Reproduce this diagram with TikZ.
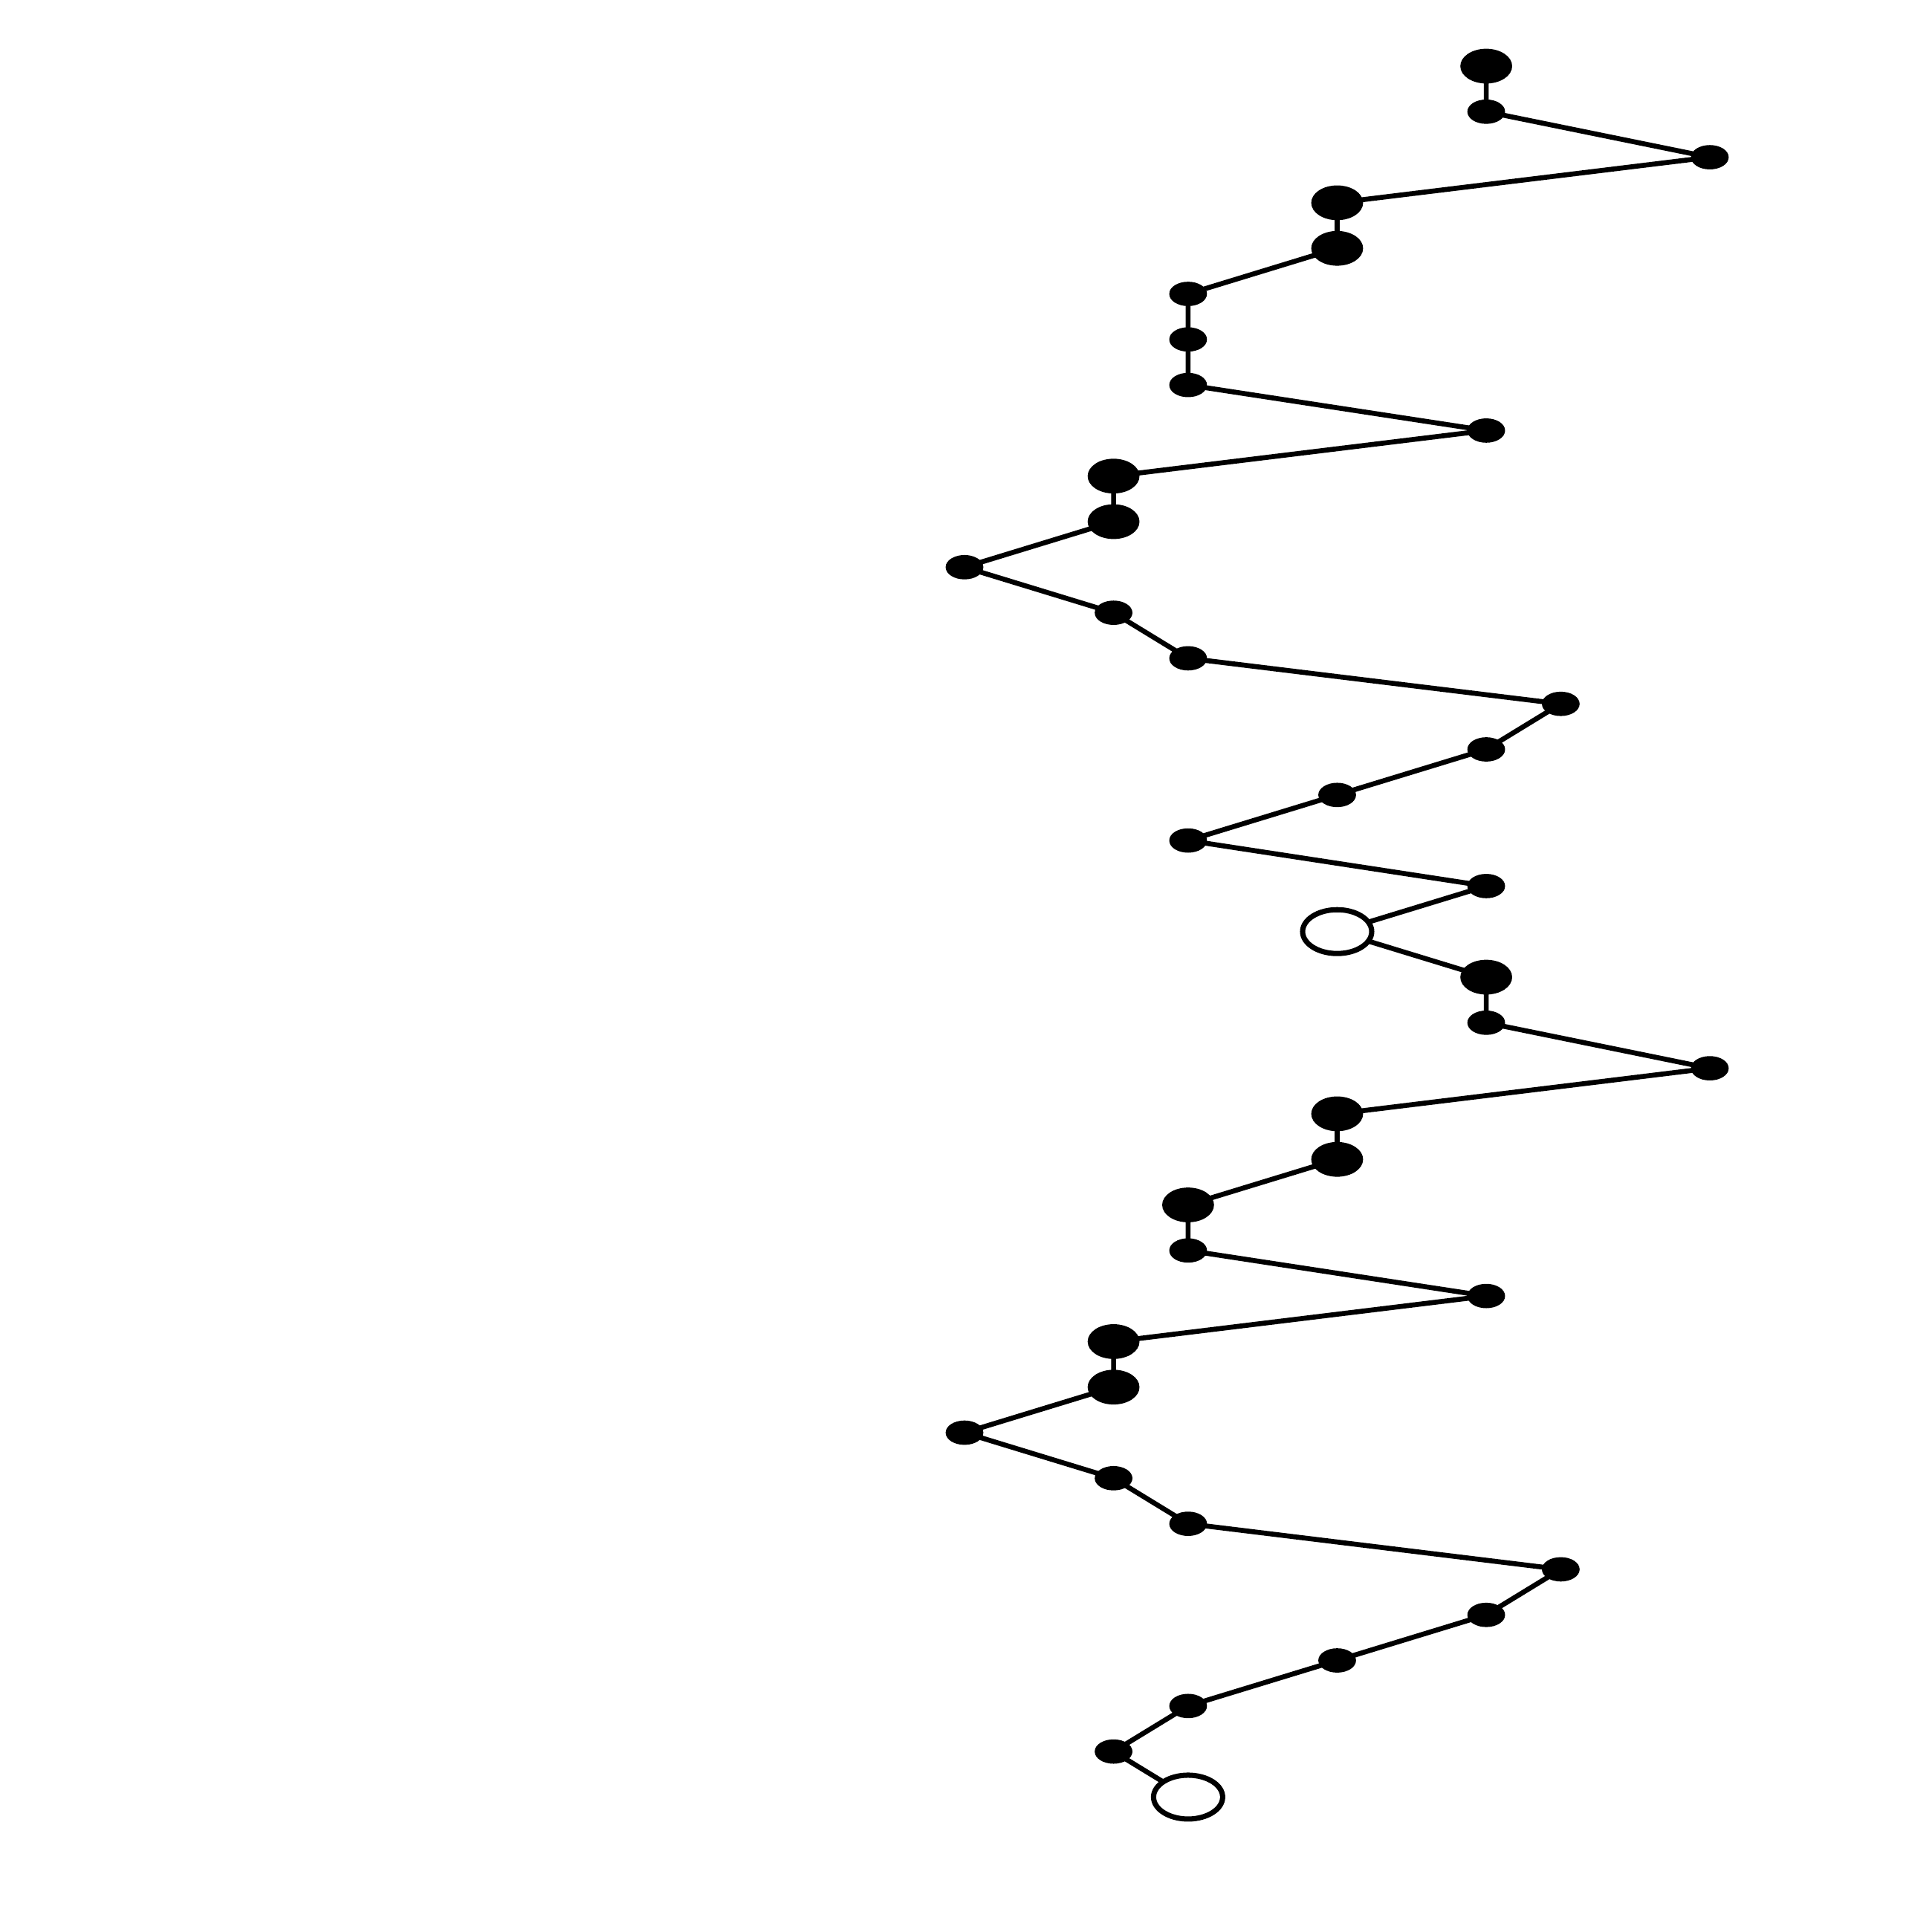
\documentclass[tikz,border=0pt]{standalone}
\usepackage{tikz}
\usetikzlibrary{shapes.geometric}
\usetikzlibrary{backgrounds}

\tikzset{
  bigdot/.style={ellipse, draw=black, fill=black, line width=0.5pt, inner sep=0pt, outer sep=0pt, minimum width=0.68cm, minimum height=0.45cm},
  smalldot/.style={ellipse, draw=black, fill=black, line width=0.5pt, inner sep=0pt, outer sep=0pt, minimum width=0.49cm, minimum height=0.31cm},
  opendot/.style={ellipse, draw=black, fill=white, line width=2pt, inner sep=0pt, outer sep=0pt, minimum width=0.93cm, minimum height=0.59cm},
  chain/.style={draw=black, line width=1.9pt}
}

\begin{document}
\begin{tikzpicture}[x=1.003cm, y=0.613cm]
\useasboundingbox (-12.98cm,0.89cm) rectangle (13.02cm,-25.11cm);

\node (n1) [bigdot] at (7,0) {};
\node (n2) [smalldot] at (7,-1) {};
\node (n3) [smalldot] at (10,-2) {};
\node (n4) [bigdot] at (5,-3) {};
\node (n5) [bigdot] at (5,-4) {};
\node (n6) [smalldot] at (3,-5) {};
\node (n7) [smalldot] at (3,-6) {};
\node (n8) [smalldot] at (3,-7) {};
\node (n9) [smalldot] at (7,-8) {};
\node (n10) [bigdot] at (2,-9) {};
\node (n11) [bigdot] at (2,-10) {};
\node (n12) [smalldot] at (0,-11) {};
\node (n13) [smalldot] at (2,-12) {};
\node (n14) [smalldot] at (3,-13) {};
\node (n15) [smalldot] at (8,-14) {};
\node (n16) [smalldot] at (7,-15) {};
\node (n17) [smalldot] at (5,-16) {};
\node (n18) [smalldot] at (3,-17) {};
\node (n19) [smalldot] at (7,-18) {};
\node (n20) [opendot] at (5,-19) {};
\node (n21) [bigdot] at (7,-20) {};
\node (n22) [smalldot] at (7,-21) {};
\node (n23) [smalldot] at (10,-22) {};
\node (n24) [bigdot] at (5,-23) {};
\node (n25) [bigdot] at (5,-24) {};
\node (n26) [bigdot] at (3,-25) {};
\node (n27) [smalldot] at (3,-26) {};
\node (n28) [smalldot] at (7,-27) {};
\node (n29) [bigdot] at (2,-28) {};
\node (n30) [bigdot] at (2,-29) {};
\node (n31) [smalldot] at (0,-30) {};
\node (n32) [smalldot] at (2,-31) {};
\node (n33) [smalldot] at (3,-32) {};
\node (n34) [smalldot] at (8,-33) {};
\node (n35) [smalldot] at (7,-34) {};
\node (n36) [smalldot] at (5,-35) {};
\node (n37) [smalldot] at (3,-36) {};
\node (n38) [smalldot] at (2,-37) {};
\node (n39) [opendot] at (3,-38) {};

%
\begin{scope}[on background layer]
\draw [chain] (n1.center) -- (n2.center) -- (n3.center) -- (n4.center) -- (n5.center) -- (n6.center) -- (n7.center) -- (n8.center) -- (n9.center) -- (n10.center)
  -- (n11.center) -- (n12.center) -- (n13.center) -- (n14.center) -- (n15.center) -- (n16.center) -- (n17.center) -- (n18.center) -- (n19.center) -- (n20.center)
  -- (n21.center) -- (n22.center) -- (n23.center) -- (n24.center) -- (n25.center) -- (n26.center) -- (n27.center) -- (n28.center) -- (n29.center) -- (n30.center)
  -- (n31.center) -- (n32.center) -- (n33.center) -- (n34.center) -- (n35.center) -- (n36.center) -- (n37.center) -- (n38.center) -- (n39.center);
\end{scope}
\end{tikzpicture}
\end{document}
